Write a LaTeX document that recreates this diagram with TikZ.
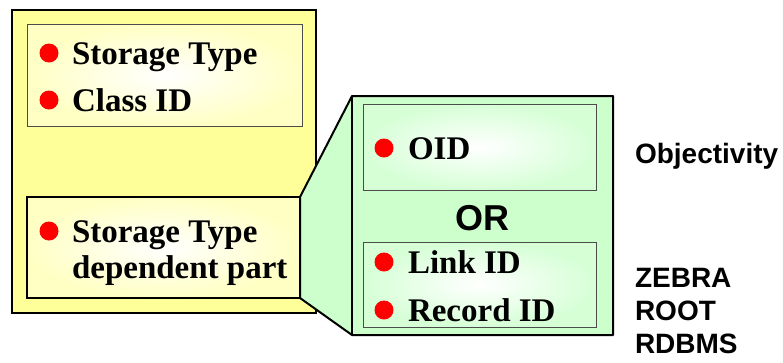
\documentclass[tikz,border=0pt]{standalone}
\usepackage{fontspec}
\setmainfont{Liberation Serif}
\setsansfont{Liberation Sans}
\definecolor{recyellow}{HTML}{FFFF99}
\definecolor{paleyellow}{HTML}{FFFFC4}
\definecolor{recgreen}{HTML}{CCFFCC}
\definecolor{palegreen}{HTML}{D6FFD6}
\begin{document}
\begin{tikzpicture}[
        x=1pt,y=-1pt,
        every node/.style={inner sep=0pt,outer sep=0pt},
        item/.style={anchor=base west,font=\fontsize{33}{36}\selectfont\bfseries},
        dot/.style={circle,fill=red,minimum size=19pt},
        tech/.style={anchor=base west,font=\fontsize{28}{30}\sffamily\bfseries},
        outerbox/.style={draw=black,line width=2pt,fill=recyellow},
        fieldbox/.style={draw=black!70,line width=0.8pt,shading=radial,
            outer color=paleyellow,inner color=white},
        greenbox/.style={draw=black!70,line width=0.8pt,shading=radial,
            outer color=palegreen,inner color=white}
    ]
    \useasboundingbox (0,0) rectangle (783,362);

    % Record header
    \node[outerbox,minimum width=304pt,minimum height=303pt] (rec) at (164,161.5) {};

    \node[fieldbox,minimum width=275pt,minimum height=102pt] (head) at (164.5,75) {};
    \node[dot] (d1) at (49,53) {};
    \node[item] (st) at (72,64) {Storage Type};
    \node[dot] (d2) at (49,100) {};
    \node[item] (cid) at (72,111) {Class ID};

    % Storage dependent part
    \node[fieldbox,draw=black,line width=2pt,minimum width=273pt,minimum height=101pt]
        (dep) at (163.5,247.5) {};
    \node[dot] (d3) at (49,231) {};
    \node[item] (st2) at (72,242) {Storage Type};
    \node[item] (dp) at (72,278) {dependent part};

    % Zoomed part
    \node[minimum width=261pt,minimum height=239pt] (alt) at (482.5,215.5) {};
    \draw[line width=2pt,line join=round,fill=recgreen]
        (dep.north east) -- (alt.north west) -- (alt.north east)
        -- (alt.south east) -- (alt.south west) -- (dep.south east) -- cycle;
    \draw[line width=2pt] (alt.north west) -- (alt.south west);

    \node[greenbox,minimum width=233pt,minimum height=86pt] (obj) at (479.5,147) {};
    \node[dot] (d4) at (384,148) {};
    \node[item] (oid) at (408,159) {OID};

    \node[anchor=base,font=\fontsize{36}{38}\sffamily\bfseries] (or) at (482,230) {OR};

    \node[greenbox,minimum width=233pt,minimum height=85pt] (other) at (479.5,284.5) {};
    \node[dot] (d5) at (384,262) {};
    \node[item] (lid) at (408,273) {Link ID};
    \node[dot] (d6) at (384,310) {};
    \node[item] (rid) at (408,321) {Record ID};

    % Technologies
    \node[tech] (objy) at (635,163) {Objectivity};
    \node[tech] (zeb) at (635,287) {ZEBRA};
    \node[tech] (root) at (635,320) {ROOT};
    \node[tech] (rdb) at (635,353) {RDBMS};
\end{tikzpicture}
\end{document}
